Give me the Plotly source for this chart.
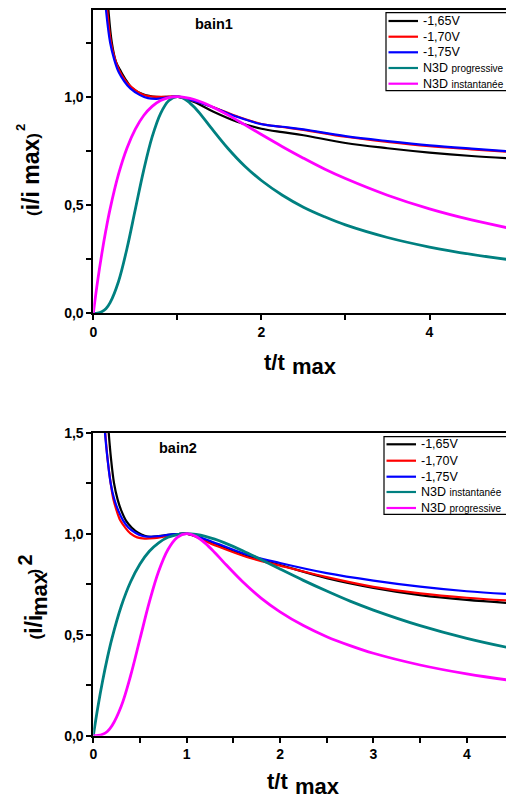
import plotly.graph_objects as go

W, H = 506, 800

# ---------------- data ----------------
# theoretical curves (Scharifker-Hills shapes as drawn)
t_theo = [0, 0.05, 0.1, 0.15, 0.2, 0.3, 0.4, 0.5, 0.6, 0.7, 0.8, 0.9, 1.0, 1.1, 1.2, 1.3,
          1.4, 1.6, 1.8, 2.0, 2.25, 2.5, 2.75, 3.0, 3.5, 4.0, 4.5, 5.0]
inst_y = [0, 0.145, 0.272, 0.384, 0.482, 0.642, 0.762, 0.850, 0.913, 0.955, 0.982, 0.996, 1.0,
          0.996, 0.987, 0.973, 0.956, 0.916, 0.871, 0.825, 0.769, 0.716, 0.666, 0.622, 0.545,
          0.482, 0.431, 0.389]
prog_y = [0, 0.001, 0.007, 0.021, 0.049, 0.147, 0.298, 0.480, 0.661, 0.814, 0.922, 0.982, 1.0,
          0.986, 0.952, 0.907, 0.857, 0.762, 0.680, 0.613, 0.545, 0.490, 0.446, 0.408, 0.350,
          0.306, 0.272, 0.245]

# bain1 experimental
b1_165_t = [0.13, 0.15, 0.18, 0.22, 0.27, 0.33, 0.40, 0.46, 0.6, 0.75, 0.9, 1.0, 1.2, 1.43,
            1.71, 2.0, 2.25, 2.5, 3.0, 3.5, 4.0, 4.5, 4.91]
b1_165_y = [1.70, 1.57, 1.40, 1.25, 1.16, 1.115, 1.07, 1.04, 1.01, 0.999, 0.999, 1.0, 0.975,
            0.93, 0.884, 0.852, 0.836, 0.822, 0.786, 0.762, 0.742, 0.726, 0.716]
b1_170_t = [0.11, 0.13, 0.165, 0.21, 0.26, 0.31, 0.38, 0.45, 0.56, 0.65, 0.75, 0.85, 1.0, 1.2,
            1.43, 1.71, 2.0, 2.25, 2.5, 3.0, 3.5, 4.0, 4.5, 4.91]
b1_170_y = [1.70, 1.57, 1.40, 1.25, 1.17, 1.12, 1.075, 1.045, 1.015, 1.003, 0.999, 0.999, 1.0,
            0.98, 0.951, 0.909, 0.874, 0.860, 0.847, 0.815, 0.791, 0.771, 0.757, 0.746]
b1_175_t = [0.10, 0.12, 0.151, 0.2, 0.25, 0.3, 0.37, 0.44, 0.556, 0.65, 0.75, 0.85, 1.0, 1.2,
            1.43, 1.71, 2.0, 2.25, 2.5, 3.0, 3.5, 4.0, 4.5, 4.91]
b1_175_y = [1.68, 1.55, 1.40, 1.25, 1.17, 1.115, 1.07, 1.038, 1.007, 0.993, 0.99, 0.994, 1.0,
            0.98, 0.95, 0.907, 0.873, 0.861, 0.849, 0.818, 0.795, 0.775, 0.76, 0.749]

# bain2 experimental
b2_165_t = [0.13, 0.145, 0.165, 0.19, 0.222, 0.26, 0.30, 0.35, 0.41, 0.48, 0.55, 0.62, 0.7,
            0.8, 0.9, 1.0, 1.286, 1.643, 2.0, 2.5, 3.0, 3.5, 4.0, 4.42]
b2_165_y = [1.80, 1.64, 1.50, 1.37, 1.25, 1.17, 1.114, 1.065, 1.031, 1.005, 0.99, 0.985, 0.988,
            0.994, 0.998, 1.0, 0.952, 0.889, 0.845, 0.78, 0.732, 0.696, 0.672, 0.658]
b2_170_t = [0.09, 0.105, 0.128, 0.155, 0.186, 0.215, 0.25, 0.29, 0.34, 0.40, 0.47, 0.55, 0.65,
            0.75, 0.85, 1.0, 1.286, 1.643, 2.0, 2.5, 3.0, 3.5, 4.0, 4.42]
b2_170_y = [1.83, 1.65, 1.50, 1.36, 1.25, 1.17, 1.114, 1.065, 1.031, 1.0, 0.982, 0.976, 0.978,
            0.985, 0.993, 1.0, 0.946, 0.885, 0.842, 0.785, 0.737, 0.705, 0.683, 0.670]
b2_175_t = [0.09, 0.105, 0.125, 0.155, 0.186, 0.225, 0.268, 0.32, 0.375, 0.45, 0.52, 0.6, 0.7,
            0.8, 0.9, 1.0, 1.286, 1.643, 2.0, 2.5, 3.0, 3.5, 4.0, 4.42]
b2_175_y = [1.85, 1.66, 1.50, 1.36, 1.25, 1.17, 1.114, 1.065, 1.031, 1.005, 0.99, 0.985, 0.988,
            0.994, 0.998, 1.0, 0.958, 0.897, 0.855, 0.805, 0.768, 0.738, 0.715, 0.702]

names1 = ["-1,65V", "-1,70V", "-1,75V", "N3D progressive", "N3D instantanée"]
names2 = ["-1,65V", "-1,70V", "-1,75V", "N3D instantanée", "N3D progressive"]
colors1 = ["#000000", "#ff0000", "#0000ff", "#008080", "#ff00ff"]
colors2 = ["#000000", "#ff0000", "#0000ff", "#008080", "#ff00ff"]

# ---------------- figure ----------------
FONT = "Liberation Sans, Arial, sans-serif"


def px(p):
    return p / W


def py(p):
    return 1 - p / H


fig = go.Figure()

top_series = [(b1_165_t, b1_165_y), (b1_170_t, b1_170_y), (b1_175_t, b1_175_y),
              (t_theo, prog_y), (t_theo, inst_y)]
bot_series = [(b2_165_t, b2_165_y), (b2_170_t, b2_170_y), (b2_175_t, b2_175_y),
              (t_theo, inst_y), (t_theo, prog_y)]

for i, (tx, ty) in enumerate(top_series):
    fig.add_trace(go.Scatter(x=tx, y=ty, mode="lines", name=names1[i],
                             line=dict(color=colors1[i], width=2.2 if i < 3 else 2.8,
                                       shape="spline", smoothing=1.0),
                             xaxis="x", yaxis="y", showlegend=False))
for i, (tx, ty) in enumerate(bot_series):
    fig.add_trace(go.Scatter(x=tx, y=ty, mode="lines", name=names2[i],
                             line=dict(color=colors2[i], width=2.2 if i < 3 else 2.8,
                                       shape="spline", smoothing=1.0),
                             xaxis="x2", yaxis="y2", showlegend=False))

axis_common = dict(showline=True, linecolor="black", linewidth=1.8, ticks="outside",
                   ticklen=5, tickwidth=1.5, tickcolor="black", showgrid=False,
                   zeroline=False, automargin=False,
                   tickfont=dict(family=FONT, size=14, color="black", weight="bold"))

x0 = px(93.3)
fig.update_layout(
    xaxis=dict(domain=[x0, 1], range=[0, 4.91], dtick=2, tick0=0, mirror=True,
               anchor="y",
               minor=dict(dtick=1, ticks="outside", ticklen=5, tickwidth=1.5,
                          tickcolor="black"),
               **axis_common),
    yaxis=dict(domain=[py(313.3), py(10)], range=[0, 1.40], dtick=0.5, tick0=0,
               tickformat=".1f", anchor="x",
               minor=dict(dtick=0.25, ticks="outside", ticklen=5, tickwidth=1.5,
                          tickcolor="black"),
               **axis_common),
    xaxis2=dict(domain=[x0, 1], range=[0, 4.42], dtick=1, tick0=0, mirror=True,
                anchor="y2",
                minor=dict(dtick=0.5, ticks="outside", ticklen=5, tickwidth=1.5,
                           tickcolor="black"),
                **axis_common),
    yaxis2=dict(domain=[py(735.7), py(432.7)], range=[0, 1.5], dtick=0.5, tick0=0,
                tickformat=".1f", anchor="x2",
                minor=dict(dtick=0.25, ticks="outside", ticklen=5, tickwidth=1.5,
                           tickcolor="black"),
                **axis_common),
    separators=",.",
    width=W, height=H, autosize=False,
    margin=dict(l=0, r=0, t=0, b=0, pad=0, autoexpand=False),
    paper_bgcolor="white", plot_bgcolor="white",
    showlegend=False,
)

annotations = []
shapes = []


def add_text(x, y, text, size, bold=True, angle=0, xanchor="center"):
    annotations.append(dict(
        x=px(x), y=py(y), xref="paper", yref="paper", showarrow=False,
        xanchor=xanchor, yanchor="middle", textangle=angle, text=text,
        font=dict(family=FONT, size=size, color="black",
                  weight="bold" if bold else "normal")))


SMALL = "<span style='font-size:17px'>%s</span>"

# x axis titles ("t/t" with lowered "max")
add_text(274, 362, "t/t", 22)
add_text(314.5, 366.5, "max", 22)
add_text(277, 781, "t/t", 22)
add_text(317.5, 786, "max", 22)

# y axis titles (rotated)
add_text(30.5, 174.5, SMALL % "(" + "i/i max" + SMALL % ")", 23, angle=-90)
add_text(20.5, 127.5, "2", 13, angle=-90)
add_text(33.5, 627, SMALL % "(" + "i/i", 23, angle=-90)
add_text(39.0, 594, "max", 22, angle=-90)
add_text(34.0, 571.5, ")", 17, angle=-90)
add_text(24.0, 560.5, "2", 20, angle=-90)

# panel labels
add_text(214, 24, "bain1", 14.5)
add_text(178, 448, "bain2", 14.5)


def legend_label(name):
    if name.startswith("N3D "):
        return "N3D <span style='font-size:10px'>" + name[4:] + "</span>"
    return name


def add_legend(names, colors, box, rows):
    bx0, by0, by1 = box
    shapes.append(dict(type="rect", xref="paper", yref="paper", x0=px(bx0), x1=px(520),
                       y0=py(by1), y1=py(by0), line=dict(color="black", width=1.2),
                       fillcolor="white", layer="above"))
    for name, col, ry in zip(names, colors, rows):
        shapes.append(dict(type="line", xref="paper", yref="paper", x0=px(bx0 + 2.5),
                           x1=px(bx0 + 32), y0=py(ry), y1=py(ry),
                           line=dict(color=col, width=2.2), layer="above"))
        add_text(bx0 + 34.5, ry, legend_label(name), 12.5, bold=False, xanchor="left")


add_legend(names1, colors1, (386, 12.7, 90.7), [21, 36.7, 52.3, 68, 83.7])
add_legend(names2, colors2, (384, 436.7, 514.3), [444.3, 460.7, 476.7, 492, 508])

fig.update_layout(annotations=annotations, shapes=shapes)

fig.write_html("out.html")
